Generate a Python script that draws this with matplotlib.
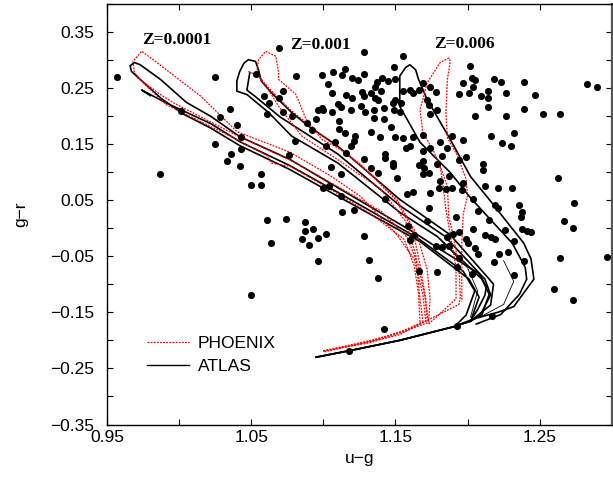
import matplotlib
matplotlib.use("Agg")
import matplotlib.pyplot as plt
from matplotlib.lines import Line2D

# ---------------- observed stars (u-g, g-r) ----------------
u_g = [0.957,0.987,1.001,1.025,1.035,1.028,1.040,1.043,1.025,1.043,1.036,1.033,1.042,1.057,1.050,1.057,
       1.069,1.053,1.059,1.062,1.061,1.072,1.069,1.081,1.072,1.078,1.089,1.080,1.092,1.096,1.099,1.100,
       1.095,1.099,1.107,1.103,1.106,1.115,1.113,1.116,1.110,1.112,1.106,1.111,1.111,1.115,1.108,1.102,
       1.116,1.076,1.105,1.112,1.100,1.104,1.112,1.061,1.074,1.064,1.087,1.087,1.093,1.085,1.090,1.096,
       1.102,1.096,1.050,1.113,1.118,
       1.128,1.155,1.149,1.128,1.120,1.124,1.141,1.137,1.136,1.145,1.140,1.150,1.120,1.127,1.128,1.133,
       1.136,1.138,1.119,1.126,1.129,1.135,1.142,1.148,1.149,1.153,1.154,1.160,1.162,1.166,1.169,1.172,
       1.174,1.178,1.179,1.142,1.147,1.135,1.122,1.121,1.119,1.128,1.133,1.139,1.150,1.155,1.169,1.162,
       1.181,1.182,1.186,1.189,1.157,1.169,1.169,1.143,1.143,1.148,1.148,1.133,1.138,1.169,1.173,1.166,
       1.181,1.174,1.162,1.158,1.180,1.185,1.189,1.196,1.197,1.197,1.199,1.194,1.179,1.187,1.151,1.160,
       1.174,1.170,1.143,1.204,1.192,1.173,1.207,1.121,1.128,1.159,1.172,1.186,1.190,1.194,1.199,1.200,
       1.163,1.160,1.204,1.132,1.166,1.179,1.193,1.203,1.138,1.193,1.142,1.178,1.182,1.187,1.194,
       1.155,1.173,1.174,1.150,
       1.202,1.203,1.205,1.197,1.218,1.223,1.239,1.283,1.290,1.204,1.194,1.201,1.209,1.214,1.214,1.227,
       1.247,1.239,1.252,1.264,1.214,1.205,1.227,1.216,1.232,1.224,1.230,1.211,1.211,1.221,1.231,1.263,
       1.212,1.219,1.221,1.236,1.238,1.237,1.274,1.267,1.273,1.215,1.212,1.216,1.219,1.226,1.238,1.241,
       1.244,1.232,1.205,1.207,1.222,1.228,1.218,1.239,1.264,1.297,1.232,1.260,1.273,1.217]
g_r = [0.270,0.097,0.208,0.270,0.213,0.198,0.183,0.163,0.149,0.141,0.132,0.120,0.110,0.096,0.077,0.077,
       0.321,0.275,0.235,0.223,0.204,0.245,0.231,0.271,0.207,0.199,0.188,0.156,0.174,0.211,0.214,0.210,
       0.195,0.272,0.278,0.256,0.241,0.284,0.272,0.238,0.221,0.216,0.207,0.190,0.177,0.170,0.153,0.146,
       0.133,0.130,0.109,0.096,0.071,0.075,0.058,0.014,0.016,-0.026,0.010,-0.006,-0.001,-0.019,-0.030,-0.017,
       -0.010,-0.058,-0.120,0.029,-0.219,
       0.313,0.306,0.287,0.275,0.267,0.264,0.268,0.260,0.252,0.262,0.245,0.265,0.232,0.242,0.235,0.241,
       0.232,0.229,0.211,0.218,0.206,0.211,0.214,0.223,0.211,0.206,0.223,0.246,0.241,0.246,0.259,0.229,
       0.252,0.243,0.210,0.194,0.180,0.197,0.164,0.155,0.146,0.123,0.172,0.163,0.163,0.161,0.166,0.162,
       0.153,0.129,0.143,0.164,0.143,0.137,0.119,0.132,0.125,0.116,0.110,0.107,0.099,0.097,0.099,0.113,
       0.084,0.063,0.064,0.060,0.071,0.069,0.071,0.068,0.081,0.157,0.127,0.122,0.114,0.093,0.090,0.146,
       0.143,0.107,0.052,0.052,0.019,0.035,0.030,0.033,-0.014,0.004,0.012,-0.016,-0.010,-0.007,-0.019,-0.026,
       -0.012,-0.022,-0.002,-0.057,-0.077,-0.079,-0.069,-0.081,-0.089,-0.175,-0.180,-0.032,-0.034,-0.032,-0.054,
       0.244,0.220,0.203,0.229,
       0.289,0.267,0.263,0.259,0.265,0.260,0.260,0.256,0.251,0.252,0.239,0.241,0.236,0.245,0.231,0.241,
       0.238,0.213,0.204,0.204,0.216,0.199,0.199,0.164,0.169,0.152,0.147,0.115,0.104,0.071,0.072,0.089,
       0.075,0.042,0.035,0.041,0.029,0.019,0.044,0.013,0.000,0.014,-0.012,-0.016,-0.019,-0.003,-0.002,-0.006,
       -0.007,-0.023,-0.036,-0.047,-0.047,-0.043,-0.060,-0.058,-0.054,-0.052,-0.083,-0.108,-0.129,-0.157]

# ---------------- ATLAS isochrones (black) ----------------
atlas_z0001_a_u = [1.095,1.119,1.153,1.190,1.202,1.207,1.212,1.213,1.208,1.181,1.163,1.114,1.077,1.042,1.022,1.005,
                   0.987,0.973,0.969,0.966,0.967,0.973,0.988,1.003,1.022,1.042,1.077,1.114,1.167,1.201,1.208,1.203]
atlas_z0001_a_g = [-0.230,-0.218,-0.200,-0.176,-0.166,-0.145,-0.120,-0.105,-0.081,-0.038,-0.008,0.066,0.122,0.163,0.199,0.224,
                   0.265,0.291,0.295,0.289,0.279,0.265,0.230,0.203,0.178,0.147,0.104,0.051,-0.024,-0.091,-0.123,-0.159]
atlas_z0001_b_u = [0.980,0.974,0.991,1.022,1.042,1.077,1.114,1.165,1.197,1.205,1.199,1.192]
atlas_z0001_b_g = [0.236,0.246,0.223,0.186,0.154,0.111,0.058,-0.017,-0.077,-0.112,-0.155,-0.173]

atlas_z001_a_u = [1.095,1.119,1.153,1.190,1.202,1.216,1.218,1.214,1.188,1.153,1.110,1.090,1.078,1.064,1.057,1.055,
                  1.053,1.048,1.045,1.042,1.040,1.040,1.047,1.062,1.078,1.110,1.153,1.179,1.210,1.215,1.210,1.202]
atlas_z001_a_g = [-0.230,-0.218,-0.200,-0.176,-0.166,-0.137,-0.100,-0.088,-0.012,0.051,0.146,0.181,0.206,0.241,0.262,0.282,
                  0.297,0.300,0.294,0.279,0.262,0.244,0.238,0.206,0.164,0.116,0.028,-0.015,-0.091,-0.118,-0.154,-0.166]
atlas_z001_b_u = [1.049,1.047,1.053,1.070,1.110,1.153,1.184,1.212,1.216,1.208]
atlas_z001_b_g = [0.277,0.246,0.234,0.198,0.132,0.040,-0.014,-0.091,-0.119,-0.159]

atlas_z006_a_u = [1.095,1.119,1.153,1.190,1.204,1.221,1.232,1.246,1.244,1.239,1.215,1.202,1.188,1.172,1.166,1.164,1.160,
                  1.157,1.153,1.153,1.167,1.188,1.202,1.231,1.240,1.241,1.236,1.223,1.206]
atlas_z006_a_g = [-0.230,-0.218,-0.200,-0.176,-0.162,-0.150,-0.140,-0.091,-0.055,-0.027,0.051,0.092,0.158,0.229,0.265,0.282,0.291,
                  0.286,0.271,0.217,0.153,0.099,0.054,-0.027,-0.070,-0.091,-0.118,-0.154,-0.171]

thin_a_u = [1.181,1.200,1.207,1.202]
thin_a_g = [-0.020,-0.071,-0.112,-0.159]
thin_b_u = [1.225,1.232,1.225,1.209]
thin_b_g = [-0.058,-0.095,-0.136,-0.158]

# ---------------- PHOENIX isochrones (red, dotted) ----------------
phx_z0001_a_u = [1.100,1.133,1.153,1.171,1.169,1.163,1.151,1.126,1.105,1.077,1.040,1.015,0.982,0.974,0.968,0.969,
                 0.975,0.991,1.040,1.061,1.064,1.077,1.105,1.133,1.156,1.163,1.166,1.167]
phx_z0001_a_g = [-0.219,-0.202,-0.185,-0.166,-0.118,-0.055,-0.012,0.056,0.093,0.135,0.172,0.235,0.300,0.315,0.297,0.277,
                 0.259,0.220,0.158,0.129,0.116,0.110,0.069,0.025,-0.020,-0.067,-0.117,-0.168]
phx_z0001_b_u = [0.971,0.987,0.997,1.040,1.077,1.105,1.140,1.158,1.166,1.170,1.173]
phx_z0001_b_g = [0.268,0.238,0.222,0.165,0.121,0.081,0.030,-0.016,-0.067,-0.117,-0.168]

phx_z001_a_u = [1.100,1.133,1.157,1.173,1.174,1.172,1.165,1.151,1.133,1.112,1.099,1.088,1.081,1.069,1.069,1.067,1.060,1.055,1.054]
phx_z001_a_g = [-0.219,-0.200,-0.183,-0.168,-0.126,-0.074,-0.012,0.051,0.096,0.140,0.158,0.194,0.238,0.265,0.277,0.306,0.315,0.300,0.279]
phx_z001_b_u = [1.048,1.055,1.062,1.069,1.085,1.110,1.140,1.157,1.164,1.167,1.169,1.153,1.100]
phx_z001_b_g = [0.279,0.271,0.246,0.217,0.164,0.122,0.069,0.012,-0.047,-0.126,-0.166,-0.190,-0.221]
phx_z001_c_u = [1.053,1.062,1.077,1.098,1.126,1.150,1.162,1.167,1.171,1.172]
phx_z001_c_g = [0.277,0.250,0.211,0.167,0.113,0.051,-0.003,-0.065,-0.126,-0.166]

phx_z006_a_u = [1.100,1.133,1.158,1.174,1.194,1.195,1.194,1.190,1.187,1.186,1.181,1.176,1.169,1.167,1.169,1.172,1.181,
                1.187,1.188,1.186,1.185,1.186,1.193,1.199,1.200,1.197,1.196,1.196,1.196]
phx_z006_a_g = [-0.219,-0.204,-0.183,-0.162,-0.136,-0.123,-0.070,-0.012,0.019,0.075,0.110,0.140,0.170,0.211,0.229,0.259,0.295,
                0.303,0.297,0.265,0.206,0.161,0.129,0.087,0.057,0.025,-0.029,-0.100,-0.131]
phx_z006_b_u = [1.173,1.192,1.192,1.188,1.185,1.183,1.181]
phx_z006_b_g = [-0.171,-0.126,-0.070,-0.012,0.033,0.076,0.110]

z_labels = ["Z=0.0001", "Z=0.001", "Z=0.006"]
z_label_u = [0.974, 1.077, 1.177]
z_label_g = [0.328, 0.319, 0.321]

x_ticks = [0.95, 1.05, 1.15, 1.25]
y_ticks = [0.35, 0.25, 0.15, 0.05, -0.05, -0.15, -0.25, -0.35]

# ---------------- figure ----------------
plt.rcParams['font.family'] = ['Liberation Sans', 'DejaVu Sans']
fig = plt.figure(figsize=(6.13, 4.78), dpi=100)
ax = fig.add_axes([0.1746, 0.1119, 0.8234, 0.8806])

black_lines = [(atlas_z0001_a_u, atlas_z0001_a_g), (atlas_z0001_b_u, atlas_z0001_b_g),
               (atlas_z001_a_u, atlas_z001_a_g), (atlas_z001_b_u, atlas_z001_b_g),
               (atlas_z006_a_u, atlas_z006_a_g)]
for xu, yg in black_lines:
    ax.plot(xu, yg, color='black', lw=1.2, zorder=2)
for xu, yg in [(thin_a_u, thin_a_g), (thin_b_u, thin_b_g)]:
    ax.plot(xu, yg, color='black', lw=0.6, zorder=2)

red_lines = [(phx_z0001_a_u, phx_z0001_a_g), (phx_z0001_b_u, phx_z0001_b_g),
             (phx_z001_a_u, phx_z001_a_g), (phx_z001_b_u, phx_z001_b_g), (phx_z001_c_u, phx_z001_c_g),
             (phx_z006_a_u, phx_z006_a_g), (phx_z006_b_u, phx_z006_b_g)]
for xu, yg in red_lines:
    ax.plot(xu, yg, color='red', lw=0.9, ls=(0, (1.5, 1.0)), zorder=2)

ax.scatter(u_g, g_r, s=26, c='black', linewidths=0, zorder=3)

for t, xu, yg in zip(z_labels, z_label_u, z_label_g):
    ax.text(xu, yg, t, fontsize=12.5, fontweight='bold', family=['Liberation Serif', 'DejaVu Serif'],
            ha='left', va='baseline')

ax.set_xlim(0.95, 1.30)
ax.set_ylim(-0.35, 0.40)
ax.set_xticks(x_ticks)
ax.set_xticklabels([f"{v:.2f}" for v in x_ticks])
ax.set_yticks(y_ticks)
ax.set_yticklabels([f"{v:.2f}".replace('-', '\u2212') for v in y_ticks])
ax.set_xticks([1.00, 1.10, 1.20, 1.30], minor=True)
ax.set_yticks([0.40, 0.30, 0.20, 0.10, 0.00, -0.10, -0.20, -0.30], minor=True)
ax.tick_params(which='both', direction='in', top=True, right=True, length=4, width=0.8,
               labelsize=12.5)
ax.tick_params(axis='x', which='major', pad=4)
ax.tick_params(axis='y', which='major', pad=9)
ax.tick_params(which='minor', labelsize=0)
for s in ax.spines.values():
    s.set_linewidth(1.0)
ax.spines['right'].set_color('#555555')
ax.spines['right'].set_linewidth(1.6)

ax.set_xlabel("u\u2212g", fontsize=12.5, labelpad=4)
ax.set_ylabel("g\u2212r", fontsize=12.5)
ax.yaxis.set_label_coords(-0.157, 0.5)

handles = [Line2D([], [], color='red', lw=0.9, ls=(0, (1.5, 1.0))),
           Line2D([], [], color='black', lw=1.0)]
ax.legend(handles, ["PHOENIX", "ATLAS"], loc='lower left', bbox_to_anchor=(0.079, 0.12),
          frameon=False, fontsize=12.5, handlelength=2.4, handletextpad=0.55,
          labelspacing=0.45, borderpad=0, borderaxespad=0)

fig.savefig("out.png", dpi=100)
